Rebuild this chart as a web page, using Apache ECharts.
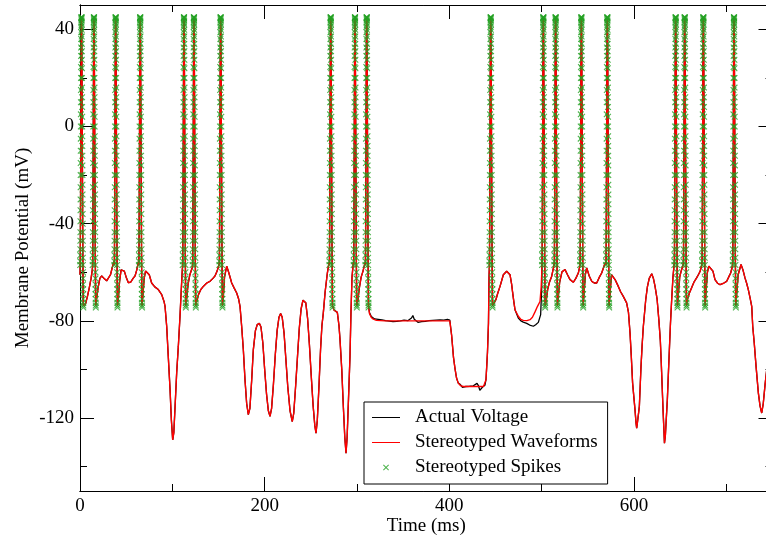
<!DOCTYPE html>
<html><head><meta charset="utf-8">
<script src="https://cdn.jsdelivr.net/npm/echarts@6/dist/echarts.min.js"></script>
<style>html,body{margin:0;padding:0;background:#fff}#chart{width:766px;height:538px}</style>
</head><body><div id="chart"></div>
<script>
// ---- data (time in ms, voltage in mV) ----
const spikeTimes = [0.2, 13.7, 37.2, 63.8, 111.2, 122.0, 150.9, 270.1, 296.4, 309.1, 443.4, 500.4, 513.7, 541.6, 569.7, 643.7, 653.5, 673.7, 706.9];
const spikeShapeT = [0,0.05,0.1,0.15,0.2,0.25,0.3,0.35,0.4,0.45,0.5,0.55,0.6,0.65,0.7,0.75,0.8,0.85,0.9,0.95,1.0,1.05,1.1,1.15,1.2,1.25,1.3,1.35,1.4,1.45,1.5,1.55,1.6,1.65,1.7,1.75,1.8,1.85,1.9,1.95,2.0,2.05,2.1,2.15,2.2,2.25,2.3,2.35,2.4,2.45,2.5,2.55,2.6,2.65,2.7,2.75,2.8,2.85,2.9,2.95,3.0,3.05,3.1,3.15,3.2,3.25,3.3,3.35,3.4];
const spikeShapeV = [-57,-55.5,-53,-50.5,-47,-43.5,-39,-34.5,-30,-25,-20,-15,-10,-5,0,5,10,15,20,24.5,29,32.5,36,38.8,41,42.7,44,44.7,45,45,44.5,43.5,42,39.8,37,34,31,27.5,24,20,16,12,8,4,0,-4,-8,-12,-16,-20,-24,-28,-32,-36,-40,-43.5,-47,-50.5,-54,-57,-60,-62.5,-65,-67,-69,-71,-72.5,-73.7,-74.5];

const waveA = [[0,-61],[4.5,-74.5],[6,-73],[8,-70],[10,-66.5],[12,-62.5],[13.3,-59],
  [18,-71],[19.5,-66.5],[21.5,-62.5],[23.5,-61.5],[26,-62.5],[28.9,-63.5],[31,-63],[33,-61],[35,-58],[36.8,-55.5],
  [41.5,-71],[42.8,-64],[44.5,-59],[46,-58.3],[48,-59.5],[50,-62],[52.4,-64.3],[55,-64],[57.5,-62.5],[59.6,-61.5],[61.5,-59],[63.4,-55.5],
  [68,-70],[69.5,-62.5],[71,-59.5],[72.9,-58.9],[75,-61],[77.6,-64.4],[81,-66],[84.8,-67.1],[88.5,-69.2],[91,-72],[92.1,-74],[93.9,-82.3],[95.6,-94.6],[97.5,-108],[99,-121],[100.4,-129],[101.6,-126],[103,-115],[104.7,-101.4],[106.5,-90.5],[108.3,-78.1],[109.7,-67],[110.8,-59],
  [115.5,-71],[117,-65],[119,-61],[121.6,-58],
  [126.4,-72],[128.5,-69],[131,-67],[133.6,-65.8],[137,-64.5],[140.8,-63.7],[144,-62.5],[146.2,-61.5],[148.5,-59.5],[150.5,-57]];
const waveB = [[155.2,-70],[156.5,-62],[158.9,-57.5],[161,-60],[164.3,-64.4],[167,-66.5],[169.7,-68.5],[171.8,-71],[173.3,-74],[175.1,-82.3],[176.9,-91.9],[178.7,-104.2],[180.5,-114],[182.3,-118.6],[184,-116],[186,-104],[187.7,-91.9],[190,-84],[192,-81.5],[194.2,-81],[196,-82.5],[198,-89],[200,-100],[202,-110],[204,-117],[205.8,-119.3],[207.5,-116],[209.5,-106],[211.5,-94],[213.5,-84],[215.5,-78.5],[217.3,-77],[219,-78.5],[221,-85],[223,-96],[225,-107],[227.5,-117],[229.9,-121.4],[231.5,-118],[233.5,-107],[235.5,-95],[237.5,-83],[239.5,-75],[241.5,-71.5],[242.9,-71],[244.5,-72.5],[246.5,-79],[248.5,-90],[250.5,-103],[252.5,-115],[254.3,-123],[255.6,-126.2],[257,-121],[258.8,-107],[260.5,-92],[262,-82],[263.5,-76.8],[265.5,-68],[267.9,-60.3],[269.7,-56],
  [275,-75.5],[278.7,-76.5],[280.5,-82],[281.6,-87.7],[283.5,-100],[285.2,-115.2],[286.8,-128],[288.1,-134.4],[289.3,-128],[290.8,-112],[292.4,-94.6],[293.5,-76],[294.6,-62],[296,-56],
  [300.8,-72],[302.5,-66.5],[304.5,-62],[306.5,-59.5],[308.7,-56]];
const waveC = [[313.5,-77],[315.5,-78.6],[317.7,-79.3],[321,-79.8],[330,-80],[400.5,-80],[402.5,-86],[404.5,-95],[406.1,-99.5],[407.8,-103.5],[409.7,-105.6],[412,-106.6],[415,-107],[437,-107],[438.5,-106.5],[439.7,-104.2],[440.6,-98],[441.3,-93],[442.4,-80.9],[443.0,-62]];
const waveD = [[448,-73],[450.4,-71.3],[452.5,-68.5],[454.9,-65.8],[458.5,-61],[462.1,-59.6],[465.7,-61],[467.5,-65],[468.6,-68.5],[470,-72.5],[471.1,-75.4],[474.7,-78.1],[477.5,-79.4],[480.1,-79.8],[484,-79.9],[487.4,-79.5],[490,-78.5],[492.8,-76.3],[495.5,-74],[498.2,-72],[499.5,-66],[500.1,-60],
  [504.8,-72],[506.5,-67],[508.5,-64],[510.8,-61.7],[512.3,-59],[513.4,-57],
  [518,-70],[519.5,-64],[522,-59.8],[525.3,-58.9],[528,-61],[530.7,-63],[534.3,-64.1],[537,-62.5],[539.7,-60.3],[541.3,-57.5],
  [546,-68],[547.3,-61],[548.8,-58.2],[551.5,-61.5],[554.2,-63.7],[557,-64.4],[559.6,-64.4],[562.5,-62],[565,-60.3],[568,-57],[569.4,-56]];
const waveE = [[574.2,-68],[575.6,-61],[577.5,-61.5],[579.5,-63],[581.3,-63.8],[583,-65.8],[585.5,-68],[588.4,-69.9],[592,-72.6],[594,-76.5],[595.7,-85],[597,-94],[598.5,-105.6],[600,-112],[601.1,-116.6],[602.2,-122],[602.9,-124.1],[604,-121],[605.8,-115.2],[607.6,-98.7],[608.8,-90],[610.1,-82.3],[612.7,-71.3],[614.5,-66],[616.5,-62.5],[619.2,-60.6],[621,-62.5],[622.8,-65.8],[625,-71],[627,-80],[628.5,-88],[629.5,-97],[630.5,-107],[631.5,-117],[632.4,-125],[633,-130.3],[634,-127],[635,-120],[636.1,-112.5],[637.2,-102],[638.3,-91.9],[639.5,-81],[640.8,-71.3],[642.2,-62],[643.4,-57],
  [648,-69],[649.5,-62],[651,-59.6],[653.2,-57],
  [658,-71],[660,-68.5],[662.4,-66.4],[665,-64],[667.8,-62.3],[670,-60.8],[671.6,-59.6],[673.4,-57],
  [678,-68],[679.5,-60],[681,-57.5],[683,-56.8],[685.5,-59.5],[687.7,-63],[690.5,-64.5],[693.2,-65.1],[697,-64.5],[700.4,-63.7],[702.5,-62],[704.7,-60.3],[706.6,-57.5],
  [711.2,-69],[712.8,-61],[715.9,-56.8],[718,-59],[720.2,-62.3],[722,-64.5],[723.8,-67.1],[725.7,-70.5],[727.5,-74],[728.6,-82.3],[730.2,-89],[732.2,-98.7],[734.7,-109.7],[736.5,-115],[738.3,-117.9],[740,-114],[742,-106],[745,-96],[750,-84]];

// where the recorded (actual) voltage departs from the stereotyped waveform
const actualPlateau = [[313.5,-76.5],[315.5,-78.2],[317,-78.5],[319,-79.2],[321,-78.6],[323,-79.4],[325,-78.9],[327,-79.6],[329,-79.1],[331,-79.9],[333,-79.3],[335,-80.1],[337,-79.5],[339,-80.3],[341,-79.6],[343,-80.2],[345,-79.4],[347,-80],[349,-79.2],[351,-79.7],[353,-79.1],[355,-79.9],[357,-79.4],[359,-78.8],[360.5,-77.8],[362,-79.3],[364,-80.1],[366,-80.6],[368,-81.1],[370,-80.3],[372,-80.9],[374,-80.2],[376,-80.7],[378,-79.9],[380,-80.5],[382,-79.8],[384,-80.4],[386,-79.7],[388,-80.2],[390,-79.6],[392,-80.3],[394,-79.7],[396,-80],[398,-79.4],[400.5,-79.7]];
const actualLow = [[412,-106.2],[414,-107.3],[416,-107.7],[418,-107],[420,-107.6],[422,-106.9],[424,-107.4],[426,-106.7],[428,-106.3],[430,-105.7],[431.5,-106.6],[433,-108.6],[434.5,-108.1],[436,-107.2],[437,-106.5]];
const actualDip = [[471.1,-75.4],[474.7,-78.8],[477.5,-80],[480.1,-80.5],[483.8,-81],[487,-81.7],[491,-82.2],[493.5,-81.6],[496.4,-80.6],[498.9,-77.4],[500.1,-66]];

const xMajorTicks = [0, 200, 400, 600];
const xMinorTicks = [100, 300, 500, 700];
const yMajorTicks = [-120, -80, -40, 0, 40];
const yMinorTicks = [-140, -100, -60, -20, 20];
const seriesNames = ['Actual Voltage', 'Stereotyped Waveforms', 'Stereotyped Spikes'];

// ---- assemble ----
function spikePoints() {
  const out = [];
  spikeTimes.forEach(t0 => spikeShapeT.forEach((dt, i) => out.push([+(t0 + dt).toFixed(2), spikeShapeV[i]])));
  return out;
}
const byT = (a, b) => a[0] - b[0];
const wavePts = [].concat(waveA, waveB, waveC, waveD, waveE);
const spikePts = spikePoints();
const waveformData = wavePts.concat(spikePts).sort(byT);
const overrides = [actualPlateau, actualLow, actualDip];
const actualBase = wavePts.filter(p => !overrides.some(o => p[0] >= o[0][0] && p[0] <= o[o.length - 1][0]));
const actualData = actualBase.concat(actualPlateau, actualLow, actualDip, spikePts).sort(byT);

const FONT = 'Liberation Serif';
const AX = '#000';
const xMarker = 'path://M0,1.2L1.2,0L5,3.8L8.8,0L10,1.2L6.2,5L10,8.8L8.8,10L5,6.2L1.2,10L0,8.8L3.8,5Z';
const lineIcon = 'path://M0,0M28,0M28,14M0,14M0,6.5L28,6.5L28,7.5L0,7.5Z';
const xIcon = 'path://M0,0M28,0M28,14M0,14M11,4.72L11.72,4L14,6.28L16.28,4L17,4.72L14.72,7L17,9.28L16.28,10L14,7.72L11.72,10L11,9.28L13.28,7Z';

function xAx(pos, ticks, len, extra) {
  return Object.assign({
    type: 'value', position: pos, min: 0, max: 750,
    axisLine: { show: true, onZero: false, lineStyle: { color: AX, width: 1 } },
    axisTick: { show: true, inside: true, length: len, customValues: ticks, lineStyle: { color: AX, width: 1 } },
    axisLabel: { show: false },
    splitLine: { show: false }
  }, extra || {});
}
function yAx(pos, ticks, len, extra) {
  return Object.assign({
    type: 'value', position: pos, min: -150, max: 50,
    axisLine: { show: true, onZero: false, lineStyle: { color: AX, width: 1 } },
    axisTick: { show: true, inside: true, length: len, customValues: ticks, lineStyle: { color: AX, width: 1 } },
    axisLabel: { show: false },
    splitLine: { show: false }
  }, extra || {});
}

const chart = echarts.init(document.getElementById('chart'), null, { renderer: 'canvas' });
chart.setOption({
  animation: false,
  backgroundColor: '#fff',
  grid: { left: 80, right: -6.5, top: 5, bottom: 47, containLabel: false, outerBoundsMode: 'none' },
  xAxis: [
    xAx('bottom', xMajorTicks, 14, {
      axisLabel: { show: true, customValues: xMajorTicks, fontFamily: FONT, fontSize: 19, color: '#000', margin: 6 },
      name: 'Time (ms)', nameLocation: 'middle', nameGap: 26, nameMoveOverlap: false,
      nameTextStyle: { fontFamily: FONT, fontSize: 19, color: '#000' }
    }),
    xAx('bottom', xMinorTicks, 7),
    xAx('top', xMajorTicks, 14),
    xAx('top', xMinorTicks, 7)
  ],
  yAxis: [
    yAx('left', yMajorTicks, 14, {
      axisLabel: { show: true, customValues: yMajorTicks, fontFamily: FONT, fontSize: 19, color: '#000', margin: 6 },
      name: 'Membrane Potential (mV)', nameLocation: 'middle', nameGap: 47, nameMoveOverlap: false,
      nameTextStyle: { fontFamily: FONT, fontSize: 19, color: '#000' }
    }),
    yAx('left', yMinorTicks, 7),
    yAx('right', yMajorTicks, 14),
    yAx('right', yMinorTicks, 7)
  ],
  legend: {
    orient: 'vertical', left: 364, top: 402,
    padding: [6, 10, 7, 8], itemGap: 6, itemWidth: 28, itemHeight: 14,
    backgroundColor: '#fff', borderColor: '#000', borderWidth: 1, borderRadius: 0,
    selectedMode: false,
    textStyle: { fontFamily: FONT, fontSize: 19, color: '#000', lineHeight: 19, padding: [0, 0, 0, 10] },
    data: [
      { name: seriesNames[0], icon: lineIcon, itemStyle: { color: '#000', borderWidth: 0 } },
      { name: seriesNames[1], icon: lineIcon, itemStyle: { color: '#ff0000', borderWidth: 0 } },
      { name: seriesNames[2], icon: xIcon, itemStyle: { color: '#22a022', borderWidth: 0 } }
    ]
  },
  series: [
    { name: seriesNames[0], type: 'line', data: actualData, symbol: 'none', showSymbol: false,
      lineStyle: { color: '#000', width: 1.3 }, itemStyle: { color: '#000' }, z: 2 },
    { name: seriesNames[1], type: 'line', data: waveformData, symbol: 'none', showSymbol: false,
      lineStyle: { color: '#ff0000', width: 1.4 }, itemStyle: { color: '#ff0000' }, z: 3 },
    { name: seriesNames[2], type: 'scatter', data: spikePts, symbol: xMarker, symbolSize: 6.5,
      itemStyle: { color: '#22a022' }, z: 4 }
  ]
});
</script>
</body></html>
